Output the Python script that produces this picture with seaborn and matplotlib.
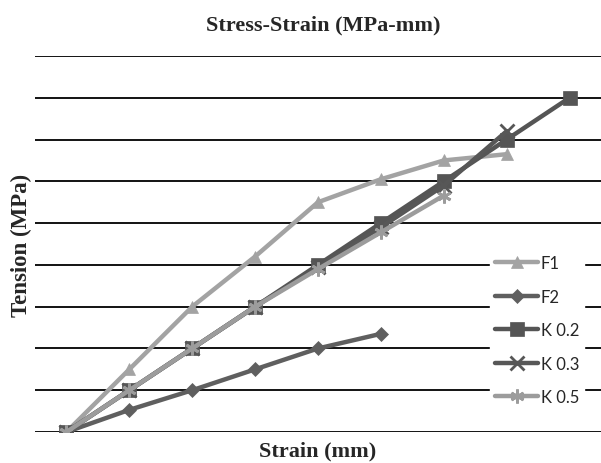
import pandas as pd
import matplotlib.pyplot as plt
import seaborn as sns

# Values (grid units, 9 strain steps)
strain_steps = [0, 1, 2, 3, 4, 5, 6, 7, 8]
f1 = [0, 1.5, 3.0, 4.2, 5.5, 6.05, 6.5, 6.65]
f2 = [0, 0.53, 1.0, 1.5, 2.0, 2.35]
k02 = [0, 1.0, 2.0, 3.0, 4.0, 5.0, 6.0, 7.0, 8.0]
k03 = [0, 1.0, 2.0, 3.0, 3.95, 4.9, 5.9, 7.2]
k05 = [0, 1.0, 2.0, 3.0, 3.9, 4.78, 5.66]

series = {'F1': f1, 'F2': f2, 'K 0.2': k02, 'K 0.3': k03, 'K 0.5': k05}

rows = []
for name, vals in series.items():
    for x, v in zip(strain_steps, vals):
        rows.append({'step': x, 'tension': v, 'series': name})
df = pd.DataFrame(rows)

sns.set_style('white')

colors = {'F1': '#a3a3a3', 'F2': '#5f5f5f', 'K 0.2': '#555555',
          'K 0.3': '#575757', 'K 0.5': '#9c9c9c'}
markers = {'F1': '^', 'F2': 'D', 'K 0.2': 's', 'K 0.3': 'x', 'K 0.5': (6, 2, 0)}
sizes = {'F1': 9, 'F2': 7, 'K 0.2': 10, 'K 0.3': 10, 'K 0.5': 10}

fig = plt.figure(figsize=(6.01, 4.64), dpi=100)
ax = fig.add_axes([35 / 601, 31 / 464, 566 / 601, 376 / 464])

# horizontal grid lines
for g in range(10):
    ax.axhline(g, color='black', lw=1.3, zorder=1)

for name in series:
    sub = df[df['series'] == name]
    sns.lineplot(data=sub, x='step', y='tension', ax=ax, color=colors[name],
                 lw=3.2, marker=markers[name], markersize=sizes[name],
                 markeredgewidth=2 if name in ('K 0.3', 'K 0.5') else 0.5,
                 markeredgecolor=colors[name], label=name, zorder=3)

ax.set_xlim(-0.5, 8.5)
ax.set_ylim(0, 9)
ax.set_xticks([])
ax.set_yticks([])
for s in ax.spines.values():
    s.set_visible(False)

ax.set_xlabel('Strain (mm)', fontsize=16, fontweight='bold',
              family='Liberation Serif', labelpad=6)
ax.set_ylabel('Tension (MPa)', fontsize=16.5, fontweight='bold',
              family='Liberation Serif', labelpad=2)
fig.text(0.538, 0.945, 'Stress-Strain (MPa-mm)', ha='center', va='center',
         fontsize=16, fontweight='bold', family='Liberation Serif')

leg = ax.legend(loc='lower right', bbox_to_anchor=(0.985, 0.036), frameon=True,
                fancybox=False, edgecolor='white', framealpha=1,
                prop={'family': 'Lato', 'size': 12}, labelspacing=1.05,
                handlelength=2.6, handletextpad=0.15, borderpad=0.3)

plt.savefig('out.png', dpi=100)
